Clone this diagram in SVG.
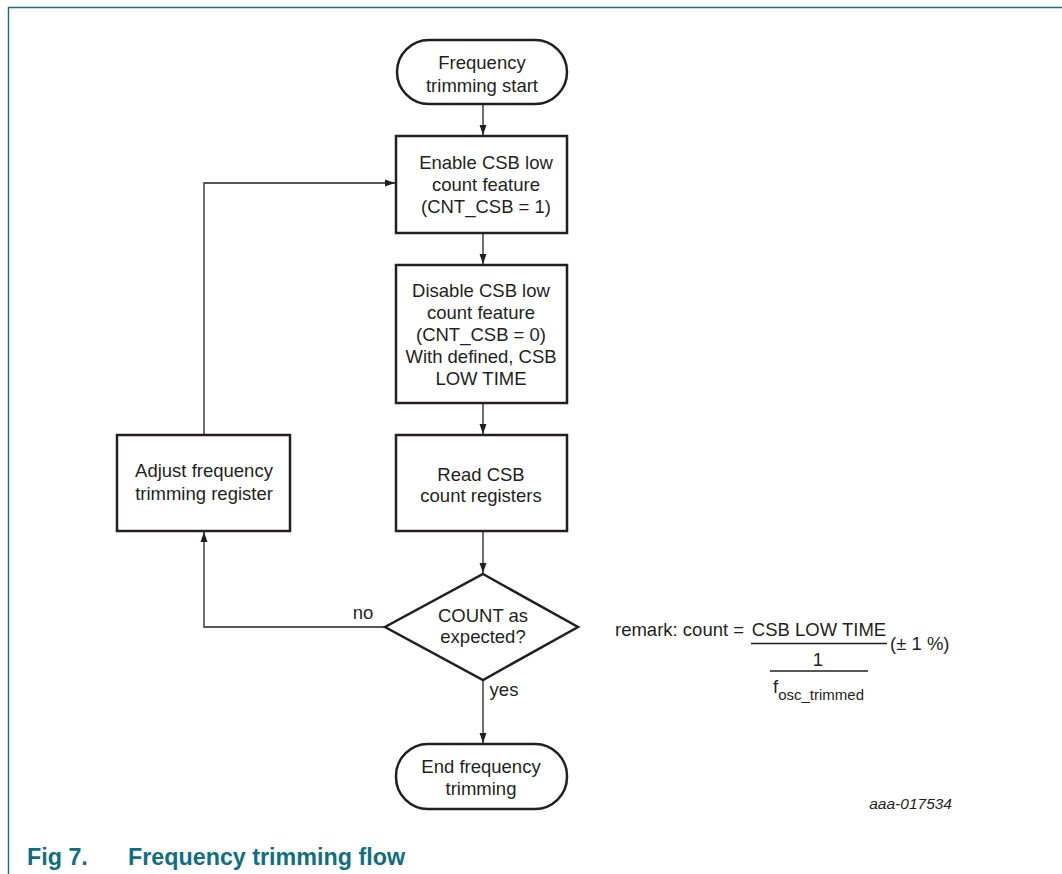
<svg xmlns="http://www.w3.org/2000/svg" width="1062" height="874" viewBox="0 0 1062 874">
<style>
.t{font-family:"Liberation Sans",Arial,sans-serif;font-size:18.5px;fill:#231f20;text-anchor:middle}
.s{fill:#fff;stroke:#231f20;stroke-width:2.5}
.c{fill:none;stroke:#231f20;stroke-width:1.3}
.cap{font-family:"Liberation Sans",Arial,sans-serif;font-size:23.3px;font-weight:bold;fill:#0f6e80}
</style>
<defs>
<marker id="ah" markerUnits="userSpaceOnUse" markerWidth="10" markerHeight="10" viewBox="0 0 10 10" refX="10" refY="5" orient="auto">
<path d="M0,1.5 L10,5 L0,8.5 Z" fill="#231f20"/>
</marker>
</defs>
<rect width="1062" height="874" fill="#fff"/>
<path d="M8.5,874 V7.5 H1062" fill="none" stroke="#1a6e80" stroke-width="1.4"/>
<g id="connectors">
<line class="c" x1="483" y1="104" x2="483" y2="135" marker-end="url(#ah)"/>
<line class="c" x1="483" y1="233" x2="483" y2="264" marker-end="url(#ah)"/>
<line class="c" x1="483" y1="403" x2="483" y2="434" marker-end="url(#ah)"/>
<line class="c" x1="483" y1="531" x2="483" y2="573" marker-end="url(#ah)"/>
<line class="c" x1="483" y1="680" x2="483" y2="743" marker-end="url(#ah)"/>
<polyline class="c" points="385,627 204,627 204,532" marker-end="url(#ah)"/>
<polyline class="c" points="204,435 204,183 395,183" marker-end="url(#ah)"/>
<text class="t" x="363" y="619">no</text>
<text class="t" x="504" y="696">yes</text>
</g>
<g id="start">
<rect class="s" x="397" y="40" width="170" height="64" rx="32" ry="32"/>
<text class="t" x="482" y="69">Frequency</text>
<text class="t" x="482" y="92">trimming start</text>
</g>
<g id="enable">
<rect class="s" x="396" y="136" width="171" height="97"/>
<text class="t" x="486" y="169">Enable CSB low</text>
<text class="t" x="486" y="191">count feature</text>
<text class="t" x="486" y="213">(CNT_CSB = 1)</text>
</g>
<g id="disable">
<rect class="s" x="396" y="265" width="171" height="138"/>
<text class="t" x="481" y="297">Disable CSB low</text>
<text class="t" x="481" y="319">count feature</text>
<text class="t" x="481" y="341">(CNT_CSB = 0)</text>
<text class="t" x="481" y="363">With defined, CSB</text>
<text class="t" x="481" y="385">LOW TIME</text>
</g>
<g id="read">
<rect class="s" x="396" y="435" width="171" height="96"/>
<text class="t" x="481" y="481">Read CSB</text>
<text class="t" x="481" y="502">count registers</text>
</g>
<g id="adjust">
<rect class="s" x="117" y="435" width="173" height="96"/>
<text class="t" x="204" y="477">Adjust frequency</text>
<text class="t" x="204" y="500">trimming register</text>
</g>
<g id="decision">
<polygon class="s" points="483,574 578,627 483,680 385,627"/>
<text class="t" x="483" y="622">COUNT as</text>
<text class="t" x="483" y="643">expected?</text>
</g>
<g id="end">
<rect class="s" x="396" y="744" width="171" height="65" rx="32" ry="32"/>
<text class="t" x="481" y="773">End frequency</text>
<text class="t" x="481" y="795">trimming</text>
</g>
<g id="remark">
<text class="t" x="615" y="636" style="text-anchor:start">remark: count = </text>
<text class="t" x="819" y="636">CSB LOW TIME</text>
<line x1="751" y1="643.5" x2="887" y2="643.5" stroke="#231f20" stroke-width="1.3"/>
<text class="t" x="890" y="650" style="text-anchor:start">(± 1 %)</text>
<text class="t" x="818" y="666">1</text>
<line x1="770" y1="671" x2="868" y2="671" stroke="#231f20" stroke-width="1.3"/>
<text class="t" x="773" y="693" style="text-anchor:start">f<tspan font-size="15px" dy="7">osc_trimmed</tspan></text>
</g>
<text x="952" y="809" style="font-family:'Liberation Sans',Arial,sans-serif;font-size:15.5px;font-style:italic;fill:#231f20;text-anchor:end">aaa-017534</text>
<text class="cap" x="27" y="865">Fig 7.</text>
<text class="cap" x="128" y="865">Frequency trimming flow</text>
</svg>
